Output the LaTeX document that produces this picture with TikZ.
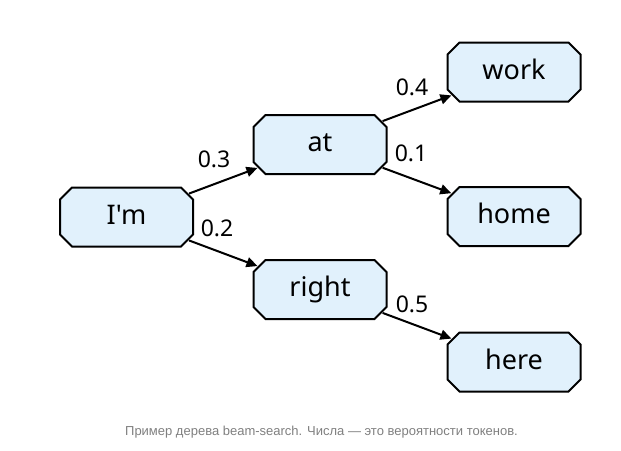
\documentclass[tikz,border=0pt]{standalone}
\usepackage{fontspec}
\setmainfont{Noto Sans}
\newfontfamily\nodefont{Noto Sans}[Ligatures=TeXOff]
\newfontfamily\capfont{Liberation Sans}
\usetikzlibrary{arrows.meta}
\definecolor{boxblue}{HTML}{E1F1FC}
\definecolor{capgray}{HTML}{7F7F7F}
\makeatletter
\def\octochamfer{12}
\pgfdeclareshape{octobox}{%
  \inheritsavedanchors[from=rectangle]%
  \inheritanchor[from=rectangle]{center}%
  \inheritanchor[from=rectangle]{north}%
  \inheritanchor[from=rectangle]{south}%
  \inheritanchor[from=rectangle]{east}%
  \inheritanchor[from=rectangle]{west}%
  \inheritanchor[from=rectangle]{text}%
  \inheritanchor[from=rectangle]{base}%
  \inheritanchor[from=rectangle]{mid}%
  \backgroundpath{%
    \pgfmathsetlength\pgf@xc{\pgfkeysvalueof{/pgf/outer xsep}}%
    \pgfmathsetlength\pgf@yc{\pgfkeysvalueof{/pgf/outer ysep}}%
    \southwest \advance\pgf@x by\pgf@xc \advance\pgf@y by\pgf@yc
    \edef\oct@xl{\the\pgf@x}\edef\oct@yl{\the\pgf@y}%
    \northeast \advance\pgf@x by-\pgf@xc \advance\pgf@y by-\pgf@yc
    \edef\oct@xr{\the\pgf@x}\edef\oct@yr{\the\pgf@y}%
    \def\oct@c{\octochamfer pt}%
    \pgfpathmoveto{\pgfpoint{\oct@xl+\oct@c}{\oct@yr}}%
    \pgfpathlineto{\pgfpoint{\oct@xr-\oct@c}{\oct@yr}}%
    \pgfpathlineto{\pgfpoint{\oct@xr}{\oct@yr-\oct@c}}%
    \pgfpathlineto{\pgfpoint{\oct@xr}{\oct@yl+\oct@c}}%
    \pgfpathlineto{\pgfpoint{\oct@xr-\oct@c}{\oct@yl}}%
    \pgfpathlineto{\pgfpoint{\oct@xl+\oct@c}{\oct@yl}}%
    \pgfpathlineto{\pgfpoint{\oct@xl}{\oct@yl+\oct@c}}%
    \pgfpathlineto{\pgfpoint{\oct@xl}{\oct@yr-\oct@c}}%
    \pgfpathclose
  }%
  \anchorborder{%
    \edef\oct@dx{\the\pgf@x}\edef\oct@dy{\the\pgf@y}%
    \southwest \edef\oct@xl{\the\pgf@x}\edef\oct@yl{\the\pgf@y}%
    \northeast \edef\oct@xr{\the\pgf@x}\edef\oct@yr{\the\pgf@y}%
    \pgfmathsetmacro\oct@a{(\oct@xr-\oct@xl)/2}%
    \pgfmathsetmacro\oct@b{(\oct@yr-\oct@yl)/2}%
    \pgfmathsetmacro\oct@cx{(\oct@xr+\oct@xl)/2}%
    \pgfmathsetmacro\oct@cy{(\oct@yr+\oct@yl)/2}%
    \pgfmathsetmacro\oct@ax{max(abs(\oct@dx),0.01)}%
    \pgfmathsetmacro\oct@ay{max(abs(\oct@dy),0.01)}%
    \pgfmathsetmacro\oct@t{min(min(\oct@a/\oct@ax,\oct@b/\oct@ay),(\oct@a+\oct@b-\octochamfer)/(\oct@ax+\oct@ay))}%
    \pgfmathsetlength\pgf@xa{\oct@cx+\oct@t*(\oct@dx)}%
    \pgfmathsetlength\pgf@ya{\oct@cy+\oct@t*(\oct@dy)}%
    \pgf@x=\pgf@xa \pgf@y=\pgf@ya
  }%
}
\makeatother
\begin{document}
\begin{tikzpicture}[x=1pt,y=-1pt,
  box/.style={octobox, minimum width=133pt, minimum height=59pt, inner sep=0pt,
    draw=black, line width=2pt, fill=boxblue,
    font=\nodefont\fontsize{27}{30}\selectfont, text height=14.5pt, text depth=0pt},
  lbl/.style={font=\fontsize{23}{26}\selectfont, inner sep=0pt},
  arr/.style={draw=black, line width=2pt, -{Stealth[length=11pt,width=10pt,inset=0pt]}}]
\useasboundingbox (0,0) rectangle (621,450);
\node[box] (im) at (126.5,217) {I'm};
\node[box] (at) at (320,144.5) {at};
\node[box] (right) at (320,289.5) {right};
\node[box] (work) at (514,72) {work};
\node[box] (home) at (514,216.5) {home};
\node[box] (here) at (514,362) {here};
\draw[arr] (im) -- (at);
\draw[arr] (im) -- (right);
\draw[arr] (at) -- (work);
\draw[arr] (at) -- (home);
\draw[arr] (right) -- (here);
\node[lbl] (l03) at (214,159) {0.3};
\node[lbl] (l02) at (217,228) {0.2};
\node[lbl] (l04) at (412,87) {0.4};
\node[lbl] (l01) at (411,153) {0.1};
\node[lbl] (l05) at (412,304) {0.5};
\node[font=\capfont\fontsize{13}{15}\selectfont, text=capgray, inner sep=0pt] (cap) at (321.5,432) {Пример дерева beam-search. Числа — это вероятности токенов.};
\end{tikzpicture}
\end{document}
